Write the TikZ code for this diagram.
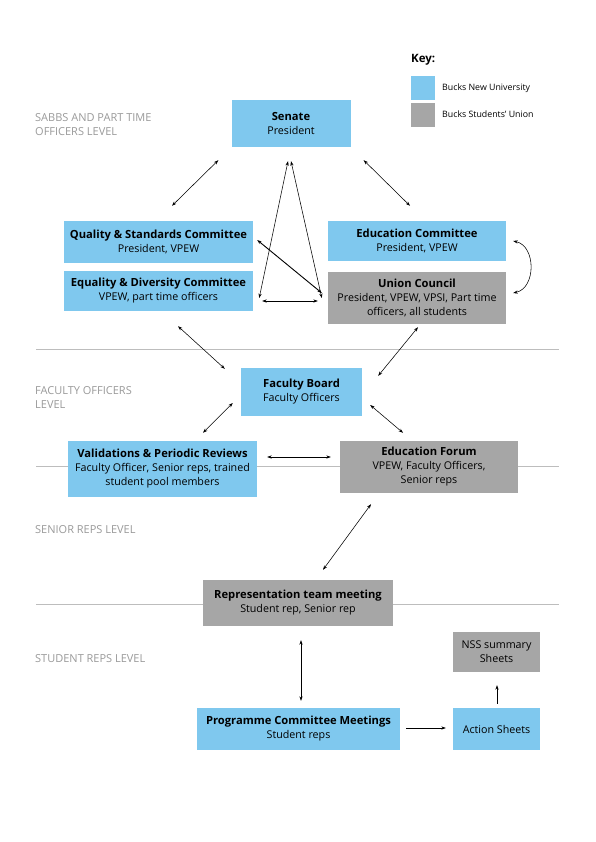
\documentclass[tikz,border=0pt]{standalone}
\usepackage{fontspec}
\setmainfont{Open Sans}
\usetikzlibrary{arrows.meta,calc}
\definecolor{bnu}{HTML}{7FC8EE}
\definecolor{bsu}{HTML}{A6A6A6}
\definecolor{lvl}{HTML}{9A9A9A}
\definecolor{rule}{HTML}{BDBDBD}
\newcommand\hd[1]{{\fontsize{11.2}{14}\selectfont\bfseries #1}}
\tikzset{
  box/.style={draw=none, align=center, inner sep=0pt, font=\fontsize{10.7}{14}\selectfont, text=black},
  uni/.style={box, fill=bnu},
  su/.style={box, fill=bsu},
  lvltext/.style={anchor=west, align=left, text=lvl, inner sep=0pt, font=\fontsize{11}{14}\selectfont},
  keytext/.style={anchor=west, inner sep=0pt, font=\fontsize{8.8}{10}\selectfont},
  arr/.style={{Stealth[length=4.5pt,width=3.2pt]}-{Stealth[length=4.5pt,width=3.2pt]}, line width=0.55pt},
  arrone/.style={-{Stealth[length=4.5pt,width=3.2pt]}, line width=0.55pt},
  levelrule/.style={draw=rule, line width=0.8pt}
}
\begin{document}
\begin{tikzpicture}[x=1pt,y=-1pt]
\useasboundingbox[fill=white] (0,0) rectangle (595,842);
% level rules
\coordinate (r1a) at (36,349); \coordinate (r1b) at (559,349);
\coordinate (r2a) at (36,466); \coordinate (r2b) at (559,466);
\coordinate (r3a) at (36,604); \coordinate (r3b) at (559,604);
\draw[levelrule] (r1a) -- (r1b);
\draw[levelrule] (r2a) -- (r2b);
\draw[levelrule] (r3a) -- (r3b);
% level labels
\node[lvltext] (l1) at (35,125) {SABBS AND PART TIME\\OFFICERS LEVEL};
\node[lvltext] (l2) at (35,398) {FACULTY OFFICERS\\LEVEL};
\node[lvltext] (l3) at (35,530) {SENIOR REPS LEVEL};
\node[lvltext] (l4) at (35,659) {STUDENT REPS LEVEL};
% key
\node[anchor=west, inner sep=0pt, font=\fontsize{11.5}{13}\selectfont\bfseries] (keyt) at (411,60) {Key:};
\node[fill=bnu, minimum width=24pt, minimum height=24pt, inner sep=0pt] (k1) at (423,88) {};
\node[fill=bsu, minimum width=24pt, minimum height=24pt, inner sep=0pt] (k2) at (423,115) {};
\node[keytext] (k1t) at (442,88) {Bucks New University};
\node[keytext] (k2t) at (442,114) {Bucks Students’ Union};
% boxes
\node[uni, minimum width=119pt, minimum height=47pt] (senate) at (291,123.5) {\hd{Senate}\\President};
\node[uni, minimum width=189pt, minimum height=42pt] (quality) at (158.5,242) {\hd{Quality \& Standards Committee}\\President, VPEW};
\node[uni, minimum width=189pt, minimum height=40pt] (equality) at (158.5,291) {\hd{Equality \& Diversity Committee}\\VPEW, part time officers};
\node[uni, minimum width=178pt, minimum height=40pt] (educ) at (417,241) {\hd{Education Committee}\\President, VPEW};
\node[su, minimum width=178pt, minimum height=52pt] (union) at (417,298) {\hd{Union Council}\\President, VPEW, VPSI, Part time\\officers, all students};
\node[uni, minimum width=121pt, minimum height=48pt] (faculty) at (301.5,392) {\hd{Faculty Board}\\Faculty Officers};
\node[uni, minimum width=189pt, minimum height=56pt] (valid) at (162.5,469) {\hd{Validations \& Periodic Reviews}\\Faculty Officer, Senior reps, trained\\student pool members};
\node[su, minimum width=178pt, minimum height=52pt] (forum) at (429,467) {\hd{Education Forum}\\VPEW, Faculty Officers,\\Senior reps};
\node[su, minimum width=190pt, minimum height=46pt] (rep) at (298,603) {\hd{Representation team meeting}\\Student rep, Senior rep};
\node[su, minimum width=87pt, minimum height=40pt] (nss) at (496.5,652) {NSS summary\\Sheets};
\node[uni, minimum width=203pt, minimum height=42pt] (prog) at (298.5,729) {\hd{Programme Committee Meetings}\\Student reps};
\node[uni, minimum width=87pt, minimum height=42pt] (action) at (496.5,729) {Action Sheets};
% connectors
\draw[arr] ($(senate.south west)+(-13,13)$) -- ($(quality.north)+(13.5,-15)$);
\draw[arr] ($(senate.south east)+(13,13)$) -- ($(educ.north)+(-7,-15)$);
\draw[arr] ($(senate.south)+(-3,14)$) -- ($(equality.east)+(6,7)$);
\draw[arr] ($(senate.south)+(0,14)$) -- ($(union.west)+(-6,0)$);
\draw[arr, line width=0.9pt] ($(quality.east)+(4,-2)$) -- ($(union.west)+(-6,-5)$);
\draw[arr] ($(equality.east)+(9,10)$) -- ($(union.west)+(-10,3)$);
\draw[arr] ($(educ.east)+(7,0)$) .. controls ($(educ.east)+(30,5)$) and ($(union.east)+(30,-10)$) .. ($(union.east)+(7,-5)$);
\draw[arr] ($(equality.south)+(19.5,15)$) -- ($(faculty.north west)+(-16,1)$);
\draw[arr] ($(union.south)+(1,3)$) -- ($(faculty.north east)+(16,8)$);
\draw[arr] ($(faculty.west)+(-8,11)$) -- ($(valid.north)+(40.5,-8)$);
\draw[arr] ($(faculty.east)+(8,13)$) -- ($(forum.north)+(-26,-8)$);
\draw[arr] ($(valid.east)+(10,-12)$) -- ($(forum.west)+(-9,-10)$);
\draw[arr] ($(forum.south)+(-58,11)$) -- ($(rep.north)+(25,-10)$);
\draw[arr] ($(rep.south)+(3,14)$) -- ($(prog.north)+(2.5,-7)$);
\draw[arrone] ($(prog.east)+(6,-1)$) -- ($(action.west)+(-7,-1)$);
\draw[arrone] ($(action.north)+(0.5,-4)$) -- ($(nss.south)+(0.5,13)$);
\end{tikzpicture}
\end{document}
